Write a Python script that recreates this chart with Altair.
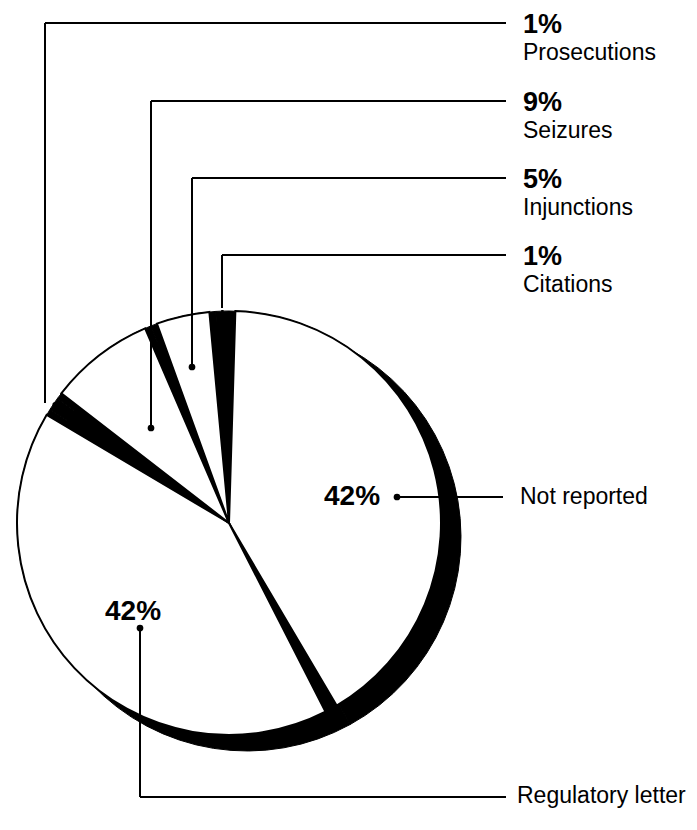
import altair as alt
import pandas as pd

# ---------------- data ----------------
categories = ["Not reported", "Regulatory letter", "Prosecutions", "Seizures", "Injunctions", "Citations"]
shares = [42, 42, 1, 9, 5, 1]

# ---------------- layout / style ----------------
W, H = 697, 830
CX, CY, R = 229, 523, 212          # pie face
SX, SY = 247, 537                   # 3-D side (shadow) centre
slice_fill = ["white", "white", "black", "white", "white", "black"]
FONT = "Liberation Sans"

# callout layout per category: anchor point, elbow y, dot?
callouts = {
    "Prosecutions": dict(ax=45, ay=403, ly=23, dot=False, side="top"),
    "Seizures": dict(ax=151, ay=428, ly=101, dot=True, side="top"),
    "Injunctions": dict(ax=192, ay=367, ly=178, dot=True, side="top"),
    "Citations": dict(ax=222, ay=308, ly=255, dot=False, side="top"),
    "Not reported": dict(ax=397, ay=497, ly=497, dot=True, side="inner", px=352, py=505, nx=520, ny=504),
    "Regulatory letter": dict(ax=140, ay=628, ly=797, dot=True, side="inner", px=133, py=620, nx=517, ny=803),
}
LINE_END = 506
TOP_TEXT_X = 523

pie_df = pd.DataFrame({"category": categories, "share": shares, "order": list(range(len(categories)))})
pie_df["pct"] = [f"{s}%" for s in shares]

seg_rows, dot_rows, pct_top, name_rows, pct_inner = [], [], [], [], []
for cat, pct in zip(pie_df["category"], pie_df["pct"]):
    c = callouts[cat]
    if c["ay"] != c["ly"]:
        seg_rows.append(dict(x=c["ax"], y=c["ay"], x2=c["ax"], y2=c["ly"]))
        seg_rows.append(dict(x=c["ax"], y=c["ly"], x2=LINE_END, y2=c["ly"]))
    else:
        seg_rows.append(dict(x=c["ax"], y=c["ay"], x2=LINE_END - 3, y2=c["ly"]))
    if c["dot"]:
        dot_rows.append(dict(x=c["ax"], y=c["ay"]))
    if c["side"] == "top":
        pct_top.append(dict(x=TOP_TEXT_X, y=c["ly"] + 10, text=pct))
        name_rows.append(dict(x=TOP_TEXT_X, y=c["ly"] + 37, text=cat))
    else:
        pct_inner.append(dict(x=c["px"], y=c["py"], text=pct))
        name_rows.append(dict(x=c["nx"], y=c["ny"], text=cat))

xs = alt.Scale(domain=[0, W], nice=False, zero=False)
ys = alt.Scale(domain=[H, 0], nice=False, zero=False)

base = alt.Chart(pie_df)
theta = alt.Theta("share:Q", stack=True)

side = base.mark_arc(radius=R + 2, color="black", stroke="black", strokeWidth=1).encode(
    theta=theta, order=alt.Order("order:Q"), x=alt.value(SX), y=alt.value(SY))
back = base.mark_arc(radius=R, color="black", stroke="black", strokeWidth=1).encode(
    theta=theta, order=alt.Order("order:Q"), x=alt.value(CX), y=alt.value(CY))
face = base.mark_arc(radius=R, padAngle=0.06, stroke="black", strokeWidth=2).encode(
    theta=theta, order=alt.Order("order:Q"),
    fill=alt.Fill("category:N", scale=alt.Scale(domain=categories, range=slice_fill), legend=None),
    x=alt.value(CX), y=alt.value(CY))

segs = alt.Chart(pd.DataFrame(seg_rows)).mark_rule(color="black", strokeWidth=2).encode(
    x=alt.X("x:Q", scale=xs, axis=None), y=alt.Y("y:Q", scale=ys, axis=None),
    x2="x2:Q", y2="y2:Q")
dots = alt.Chart(pd.DataFrame(dot_rows)).mark_circle(color="black", size=45, opacity=1).encode(
    x=alt.X("x:Q", scale=xs, axis=None), y=alt.Y("y:Q", scale=ys, axis=None))
pct_top_l = alt.Chart(pd.DataFrame(pct_top)).mark_text(
    align="left", baseline="alphabetic", font=FONT, fontSize=27, fontWeight="bold", color="black").encode(
    x=alt.X("x:Q", scale=xs, axis=None), y=alt.Y("y:Q", scale=ys, axis=None), text="text:N")
pct_in_l = alt.Chart(pd.DataFrame(pct_inner)).mark_text(
    align="center", baseline="alphabetic", font=FONT, fontSize=28, fontWeight="bold", color="black").encode(
    x=alt.X("x:Q", scale=xs, axis=None), y=alt.Y("y:Q", scale=ys, axis=None), text="text:N")
names_l = alt.Chart(pd.DataFrame(name_rows)).mark_text(
    align="left", baseline="alphabetic", font=FONT, fontSize=23, color="black").encode(
    x=alt.X("x:Q", scale=xs, axis=None), y=alt.Y("y:Q", scale=ys, axis=None), text="text:N")

chart = alt.layer(side, back, face, segs, dots, pct_top_l, pct_in_l, names_l).properties(
    width=W, height=H, padding=0, autosize=alt.AutoSizeParams(type="none"), background="white"
).configure_view(stroke=None)

chart.save("out.html", embed_options={"renderer": "svg", "actions": False})
